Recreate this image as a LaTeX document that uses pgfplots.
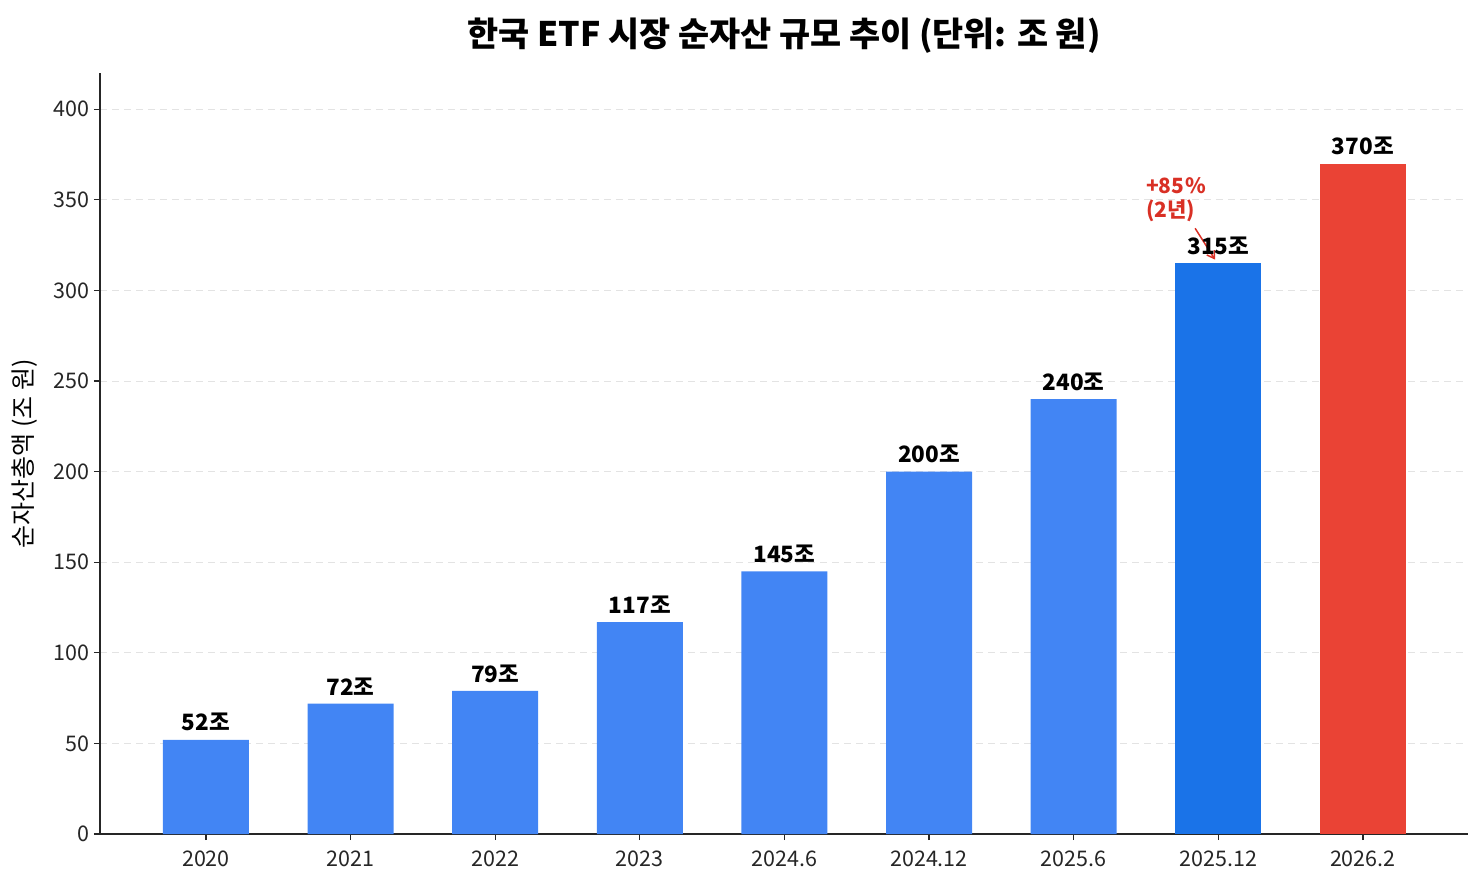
\documentclass[border=0pt]{standalone}
\usepackage{fontspec}
\setmainfont{Noto Sans CJK KR}
\usepackage{pgfplots}
\pgfplotsset{compat=1.18}
\usetikzlibrary{arrows.meta}
\definecolor{barblue}{HTML}{4285F4}
\definecolor{darkblue}{HTML}{1A73E8}
\definecolor{barred}{HTML}{EA4335}
\definecolor{annred}{HTML}{D93025}
\definecolor{gridc}{HTML}{E3E3E3}
\definecolor{spine}{HTML}{262626}
\begin{document}
\begin{tikzpicture}
\useasboundingbox (-100pt,-50pt) rectangle (1383pt,834pt);
\begin{axis}[
  at={(0,0)}, anchor=south west,
  scale only axis, width=1368pt, height=761pt,
  xmin=-0.733, xmax=8.727, ymin=0, ymax=420,
  axis lines=left, axis line style={-, spine, line width=1.3pt},
  xtick={0,...,8},
  xticklabels={2020,2021,2022,2023,2024.6,2024.12,2025.6,2025.12,2026.2},
  ytick={0,50,...,400},
  tick style={spine, line width=1.3pt},
  major tick length=6pt,
  tick align=outside,
  xtick pos=left, ytick pos=left,
  ymajorgrids, grid style={gridc, line width=1pt, dash pattern=on 7pt off 5pt},
  tick label style={font=\fontsize{21.5}{24}\selectfont, text=black!85},
  /pgf/number format/assume math mode=true,
  xticklabel style={yshift=-7pt},
  yticklabel style={xshift=-1pt},
  ylabel={순자산총액 (조 원)},
  ylabel style={font=\fontsize{25}{27}\selectfont, at={(axis description cs:-0.0548,0.5)}, anchor=center},
  title={\bfseries 한국 ETF 시장 순자산 규모 추이 (단위: 조 원)},
  title style={font=\fontsize{33.8}{36}\selectfont, at={(axis description cs:0.5,1)}, anchor=center, yshift=31pt},
  ybar, bar width=86pt, bar shift=0pt,
  nodes near coords={\pgfmathprintnumber{\pgfplotspointmeta}조},
  nodes near coords style={font=\bfseries\fontsize{22.5}{24}\selectfont, text=black, yshift=5pt},
  clip=false,
]
\addplot[fill=barblue, draw=none] coordinates {(0,52) (1,72) (2,79) (3,117) (4,145) (5,200) (6,240)};
\addplot[fill=darkblue, draw=none] coordinates {(7,315)};
\addplot[fill=barred, draw=none] coordinates {(8,370)};
\draw[-{Straight Barb[length=7pt,width=9pt]}, annred, line width=1.5pt] (axis cs:6.84,334.3) -- (axis cs:6.978,317);
\node[anchor=west, align=left, text=annred, font=\bfseries\fontsize{21}{24}\selectfont, inner sep=0pt] at (axis cs:6.5,350) {+85\kern1pt\%\\(2년)};
\end{axis}
\end{tikzpicture}
\end{document}
